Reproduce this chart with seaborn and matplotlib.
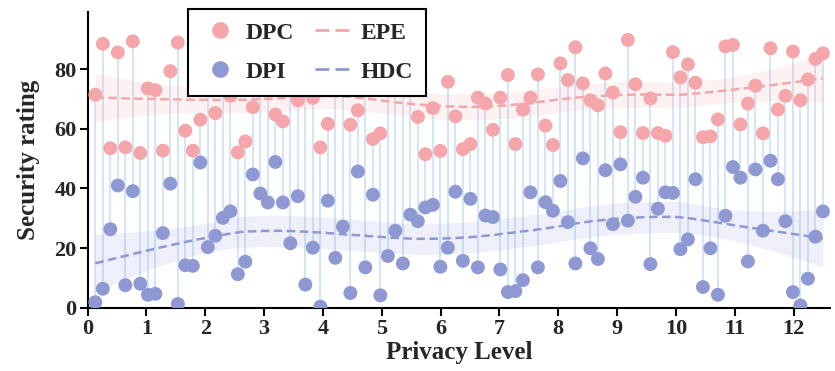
import numpy as np
import pandas as pd
import seaborn as sns
import matplotlib.pyplot as plt
from matplotlib.lines import Line2D

# ---- data ----
privacy_level = np.linspace(0.13, 12.5, 98)

dpc_values = [
    71.5, 88.6, 53.5, 85.7, 53.8, 89.4, 51.9, 73.6, 73.0, 52.7,
    79.4, 89.0, 59.4, 52.7, 63.1, 80.0, 65.3, 86.0, 71.1, 52.1,
    55.8, 67.3, 77.0, 84.0, 64.8, 62.5, 88.0, 69.6, 82.0, 70.4,
    53.8, 61.7, 79.0, 86.0, 61.4, 66.2, 90.0, 56.6, 58.5, 76.0,
    84.0, 81.0, 87.0, 64.0, 51.5, 67.0, 52.6, 75.8, 64.2, 53.2,
    54.9, 70.5, 68.5, 59.7, 70.5, 78.1, 54.9, 66.5, 70.5, 78.3,
    61.1, 54.6, 82.0, 76.4, 87.4, 75.3, 69.6, 67.9, 78.6, 72.2,
    58.9, 89.9, 75.0, 58.6, 70.2, 58.6, 57.7, 85.8, 77.3, 81.7,
    75.5, 57.2, 57.5, 63.2, 87.7, 88.2, 61.5, 68.5, 74.5, 58.5,
    87.1, 66.5, 71.1, 86.0, 69.6, 76.6, 83.5, 85.4,
]

dpi_values = [
    1.8, 6.3, 26.3, 41.0, 7.5, 39.1, 8.0, 4.3, 4.6, 25.0,
    41.6, 1.2, 14.2, 14.0, 48.7, 20.3, 24.1, 30.1, 32.3, 11.2,
    15.4, 44.7, 38.3, 35.3, 48.9, 35.3, 21.6, 37.4, 7.7, 20.1,
    0.3, 35.9, 16.7, 27.2, 4.9, 45.7, 13.5, 37.9, 4.1, 17.3,
    25.8, 14.8, 31.2, 29.0, 33.6, 34.5, 13.7, 20.1, 38.9, 15.7,
    36.5, 13.5, 30.9, 30.4, 12.8, 5.2, 5.5, 9.2, 38.7, 13.5,
    35.4, 32.5, 42.5, 28.7, 14.8, 50.1, 19.9, 16.3, 46.1, 28.0,
    48.1, 29.2, 37.2, 43.6, 14.6, 33.2, 38.7, 38.5, 19.6, 22.9,
    43.1, 6.9, 19.9, 4.3, 30.8, 47.2, 43.6, 15.5, 46.4, 25.8,
    49.3, 43.1, 29.0, 5.2, 0.7, 9.7, 23.8, 32.3,
]

series_labels = ["DPC", "DPI"]
trend_labels = ["EPE", "HDC"]
x_ticks = list(range(0, 13))
y_ticks = [0, 20, 40, 60, 80]


# ---- LOWESS trend with a 95% band (local linear, tricube weights) ----
def lowess_band(x, y, grid, frac=0.4):
    x = np.asarray(x, float)
    y = np.asarray(y, float)
    n = len(x)
    r = int(np.ceil(frac * n))

    def weights_at(x0):
        d = np.abs(x - x0)
        h = np.sort(d)[r - 1]
        w = np.clip(1 - (d / h) ** 3, 0, None) ** 3
        W = w.sum()
        mx = (w * x).sum() / W
        sxx = max((w * (x - mx) ** 2).sum(), 1e-12)
        return w / W + w * (x - mx) * (x0 - mx) / sxx

    L_data = np.array([weights_at(v) for v in x])
    resid = y - L_data @ y
    dof = n - 2 * np.trace(L_data) + np.trace(L_data.T @ L_data)
    sigma = np.sqrt((resid ** 2).sum() / dof)
    L_grid = np.array([weights_at(v) for v in grid])
    fit = L_grid @ y
    se = sigma * np.sqrt((L_grid ** 2).sum(axis=1))
    return fit, fit - 1.96 * se, fit + 1.96 * se


# ---- style ----
PINK = "#f4a6aa"
BLUE = "#8e99d4"
STEM = "#d3e5f5"

sns.set_theme(style="white")
plt.rcParams["font.family"] = ["Liberation Serif", "DejaVu Serif"]
plt.rcParams["font.weight"] = "bold"
plt.rcParams["axes.labelweight"] = "bold"

df = pd.DataFrame({"level": privacy_level, "DPC": dpc_values, "DPI": dpi_values})

grid = np.linspace(df["level"].min(), df["level"].max(), 200)
trend_frames = []
for col, lab in zip(series_labels, trend_labels):
    fit, lo, hi = lowess_band(df["level"], df[col], grid)
    trend_frames.append(pd.DataFrame({"level": grid, "fit": fit, "lo": lo,
                                      "hi": hi, "trend": lab}))
trend = pd.concat(trend_frames, ignore_index=True)

fig = plt.figure(figsize=(8.35, 3.71), dpi=100)
ax = fig.add_axes([0.105, 0.171, 0.889, 0.797])

ax.vlines(df["level"], df["DPI"], df["DPC"], color=STEM, lw=1.4, zorder=1)

for lab, color in zip(trend_labels, [PINK, BLUE]):
    sub = trend[trend["trend"] == lab]
    ax.fill_between(sub["level"], sub["lo"], sub["hi"], color=color,
                    alpha=0.15, lw=0, zorder=1.5)
sns.lineplot(data=trend, x="level", y="fit", hue="trend",
             palette={"EPE": PINK, "HDC": BLUE}, lw=1.8, ax=ax,
             legend=False, zorder=2)
for line in ax.get_lines():
    line.set_linestyle((0, (3.4, 1.8)))

sns.scatterplot(data=df, x="level", y="DPC", color=PINK, s=100,
                edgecolor="none", ax=ax, zorder=3, legend=False)
sns.scatterplot(data=df, x="level", y="DPI", color=BLUE, s=100,
                edgecolor="none", ax=ax, zorder=3, legend=False)

ax.set_xlim(0, 12.62)
ax.set_ylim(0, 99.3)
ax.set_xticks(x_ticks)
ax.set_yticks(y_ticks)
ax.tick_params(axis="both", which="major", labelsize=16, length=6, width=1.5,
               color="black", direction="out", bottom=True, left=True, pad=2)
for lab in ax.get_xticklabels() + ax.get_yticklabels():
    lab.set_fontweight("bold")
for side in ["top", "right"]:
    ax.spines[side].set_visible(False)
for side in ["left", "bottom"]:
    ax.spines[side].set_color("black")
    ax.spines[side].set_linewidth(1.5)

ax.set_xlabel("Privacy Level", fontsize=18, fontweight="bold", labelpad=2)
ax.set_ylabel("Security rating", fontsize=18, fontweight="bold", labelpad=10)

handles = [
    Line2D([], [], marker="o", ls="none", color=PINK, markersize=11),
    Line2D([], [], marker="o", ls="none", color=BLUE, markersize=11),
    Line2D([], [], ls=(0, (5, 2.2)), lw=2, color=PINK),
    Line2D([], [], ls=(0, (5, 2.2)), lw=2, color=BLUE),
]
leg = ax.legend(handles, series_labels + trend_labels, ncol=2,
                loc="upper left", bbox_to_anchor=(188 / 835, 1 - 9 / 371),
                bbox_transform=fig.transFigure, borderaxespad=0,
                frameon=True, fancybox=False, framealpha=1,
                prop=dict(size=17, weight="bold"), handlelength=1.6,
                columnspacing=0.9, labelspacing=0.75, handletextpad=0.3,
                borderpad=0.55)
leg.get_frame().set_edgecolor("black")
leg.get_frame().set_linewidth(1.5)
leg.set_zorder(10)

fig.savefig("out.png", dpi=100)
